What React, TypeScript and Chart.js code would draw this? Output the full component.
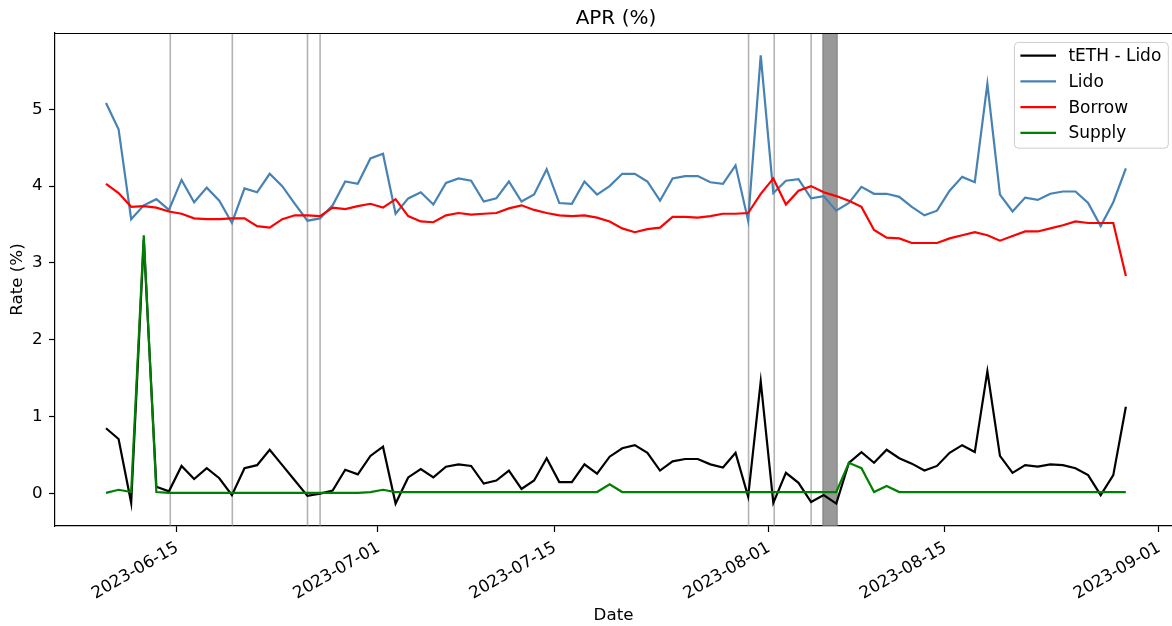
import React, { useEffect, useRef } from "react";
import { Chart, registerables } from "chart.js";

Chart.register(...registerables);

// ---------- data ----------
const FIRST_DATE = "2023-06-09T10:00:00Z"; // daily observations
const X_TICK_LABELS = ["2023-06-15", "2023-07-01", "2023-07-15", "2023-08-01", "2023-08-15", "2023-09-01"];
const Y_TICKS = [0, 1, 2, 3, 4, 5];

const TETH_LIDO = [
  0.85, 0.71, -0.12, 3.3, 0.09, 0.03, 0.36, 0.19, 0.33, 0.2,
  -0.02, 0.33, 0.37, 0.57, 0.37, 0.17, -0.03, 0.0, 0.04, 0.31,
  0.25, 0.49, 0.61, -0.13, 0.21, 0.32, 0.21, 0.35, 0.38, 0.36,
  0.13, 0.17, 0.3, 0.06, 0.17, 0.46, 0.15, 0.15, 0.38, 0.26,
  0.48, 0.59, 0.63, 0.53, 0.3, 0.42, 0.45, 0.45, 0.38, 0.34,
  0.53, -0.04, 1.46, -0.12, 0.27, 0.14, -0.11, -0.02, -0.13, 0.4,
  0.54, 0.4, 0.57, 0.46, 0.39, 0.3, 0.36, 0.53, 0.63, 0.54,
  1.59, 0.49, 0.27, 0.37, 0.35, 0.38, 0.37, 0.33, 0.24, -0.02,
  0.24, 1.13,
];
const LIDO = [
  5.08, 4.74, 3.57, 3.75, 3.83, 3.69, 4.08, 3.79, 3.98, 3.81,
  3.52, 3.97, 3.92, 4.16, 4.0, 3.77, 3.55, 3.58, 3.75, 4.06,
  4.03, 4.36, 4.42, 3.64, 3.84, 3.92, 3.76, 4.04, 4.1, 4.07,
  3.8, 3.84, 4.06, 3.8, 3.89, 4.22, 3.78, 3.77, 4.06, 3.89,
  4.0, 4.16, 4.16, 4.06, 3.81, 4.1, 4.13, 4.13, 4.05, 4.03,
  4.27, 3.55, 5.7, 3.91, 4.07, 4.09, 3.84, 3.87, 3.68, 3.78,
  3.99, 3.9, 3.9, 3.86, 3.73, 3.62, 3.68, 3.94, 4.12, 4.05,
  5.33, 3.89, 3.67, 3.85, 3.82, 3.9, 3.93, 3.93, 3.78, 3.48,
  3.79, 4.23,
];
const BORROW = [
  4.03, 3.91, 3.73, 3.74, 3.72, 3.67, 3.64, 3.58, 3.57, 3.57,
  3.58, 3.58, 3.48, 3.46, 3.57, 3.62, 3.62, 3.61, 3.72, 3.7,
  3.74, 3.77, 3.72, 3.83, 3.61, 3.54, 3.53, 3.62, 3.65, 3.63,
  3.64, 3.65, 3.71, 3.75, 3.69, 3.65, 3.62, 3.61, 3.62, 3.59,
  3.54, 3.45, 3.4, 3.44, 3.46, 3.6, 3.6, 3.59, 3.61, 3.64,
  3.64, 3.65, 3.9, 4.1, 3.76, 3.94, 4.0, 3.92, 3.87, 3.81,
  3.73, 3.43, 3.33, 3.32, 3.26, 3.26, 3.26, 3.32, 3.36, 3.4,
  3.36, 3.29, 3.35, 3.41, 3.41, 3.45, 3.49, 3.54, 3.52, 3.52,
  3.52, 2.83,
];
const SUPPLY = [
  0.01, 0.05, 0.02, 3.36, 0.02, 0.01, 0.01, 0.01, 0.01, 0.01,
  0.01, 0.01, 0.01, 0.01, 0.01, 0.01, 0.01, 0.01, 0.01, 0.01,
  0.01, 0.02, 0.05, 0.02, 0.02, 0.02, 0.02, 0.02, 0.02, 0.02,
  0.02, 0.02, 0.02, 0.02, 0.02, 0.02, 0.02, 0.02, 0.02, 0.02,
  0.12, 0.02, 0.02, 0.02, 0.02, 0.02, 0.02, 0.02, 0.02, 0.02,
  0.02, 0.02, 0.02, 0.02, 0.02, 0.02, 0.02, 0.02, 0.02, 0.4,
  0.33, 0.02, 0.1, 0.02, 0.02, 0.02, 0.02, 0.02, 0.02, 0.02,
  0.02, 0.02, 0.02, 0.02, 0.02, 0.02, 0.02, 0.02, 0.02, 0.02,
  0.02, 0.02,
];

// vertical event markers and shaded window
const EVENT_LINES = [
  "2023-06-14T12:30:00Z", "2023-06-19T10:50:00Z", "2023-06-25T10:05:00Z", "2023-06-26T10:05:00Z",
  "2023-07-30T10:50:00Z", "2023-08-01T11:45:00Z", "2023-08-04T10:05:00Z",
];
const EVENT_BANDS = [["2023-08-05T08:25:00Z", "2023-08-06T11:45:00Z"]];

const SERIES = [
  { label: "tETH - Lido", values: TETH_LIDO, color: "#000000" },
  { label: "Lido", values: LIDO, color: "#4682b4" },
  { label: "Borrow", values: BORROW, color: "#ff0000" },
  { label: "Supply", values: SUPPLY, color: "#008000" },
];

// ---------- helpers ----------
const DAY_MS = 86400000;
const ORIGIN = Date.parse("2023-06-15T00:00:00Z");
const toDay = (s: string) => (Date.parse(s) - ORIGIN) / DAY_MS;
const FIRST_DAY = toDay(FIRST_DATE);
const DAYS = LIDO.map((_, i) => FIRST_DAY + i);

const FONT = "DejaVu Sans";
const W = 1172;
const H = 626;

const allVals = [...TETH_LIDO, ...LIDO, ...BORROW, ...SUPPLY];
const yLo = Math.min(...allVals);
const yHi = Math.max(...allVals);
const yPad = (yHi - yLo) * 0.05;
const xLo = DAYS[0];
const xHi = DAYS[DAYS.length - 1];
const xPad = (xHi - xLo) * 0.05;
const X_MIN = xLo - xPad;
const X_FULL_MAX = xHi + xPad; // right edge of the full axes (beyond the crop)
const X_VIEW_MAX = 79.08; // visible right edge of the cropped figure

const overlayPlugin = {
  id: "overlay",
  beforeDatasetsDraw(chart: any) {
    const { ctx, chartArea, scales } = chart;
    const xs = scales.x;
    ctx.save();
    ctx.beginPath();
    ctx.rect(chartArea.left, chartArea.top, chartArea.right - chartArea.left, chartArea.bottom - chartArea.top);
    ctx.clip();
    for (const [a, b] of EVENT_BANDS) {
      const pa = xs.getPixelForValue(toDay(a));
      const pb = xs.getPixelForValue(toDay(b));
      ctx.fillStyle = "rgba(128,128,128,0.8)";
      ctx.fillRect(pa, chartArea.top, pb - pa, chartArea.bottom - chartArea.top);
      ctx.strokeStyle = "rgba(110,110,110,0.8)";
      ctx.lineWidth = 1;
      ctx.strokeRect(pa, chartArea.top, pb - pa, chartArea.bottom - chartArea.top);
    }
    ctx.strokeStyle = "rgba(128,128,128,0.6)";
    ctx.lineWidth = 1.6;
    for (const e of EVENT_LINES) {
      const p = xs.getPixelForValue(toDay(e));
      ctx.beginPath();
      ctx.moveTo(p, chartArea.top);
      ctx.lineTo(p, chartArea.bottom);
      ctx.stroke();
    }
    ctx.restore();
  },
  afterDraw(chart: any) {
    const { ctx, chartArea, scales } = chart;
    const xs = scales.x;
    ctx.save();
    // top spine
    ctx.strokeStyle = "#000";
    ctx.lineWidth = 1.2;
    ctx.beginPath();
    ctx.moveTo(chartArea.left - 0.6, chartArea.top + 0.5);
    ctx.lineTo(chartArea.right, chartArea.top + 0.5);
    ctx.stroke();

    // title centred over the full axes
    const cx = (chartArea.left + xs.getPixelForValue(X_FULL_MAX)) / 2;
    ctx.fillStyle = "#000";
    ctx.font = `20px "${FONT}"`;
    ctx.textAlign = "center";
    ctx.textBaseline = "alphabetic";
    ctx.fillText("APR (%)", cx, 24);

    // legend (upper right, inside axes)
    const fs = 17;
    ctx.font = `${fs}px "${FONT}"`;
    const textW = Math.max(...SERIES.map((s) => ctx.measureText(s.label).width));
    const padL = 6;
    const handle = 35.6;
    const gap = 12.4;
    const padR = 7;
    const rowH = 25.7;
    const boxW = padL + handle + gap + textW + padR;
    const boxH = rowH * SERIES.length + 3;
    const right = chartArea.right - 3.7;
    const top = chartArea.top + 9.4;
    const left = right - boxW;
    const r = 4;
    ctx.beginPath();
    ctx.moveTo(left + r, top);
    ctx.lineTo(left + boxW - r, top);
    ctx.arcTo(left + boxW, top, left + boxW, top + r, r);
    ctx.lineTo(left + boxW, top + boxH - r);
    ctx.arcTo(left + boxW, top + boxH, left + boxW - r, top + boxH, r);
    ctx.lineTo(left + r, top + boxH);
    ctx.arcTo(left, top + boxH, left, top + boxH - r, r);
    ctx.lineTo(left, top + r);
    ctx.arcTo(left, top, left + r, top, r);
    ctx.closePath();
    ctx.fillStyle = "rgba(255,255,255,0.8)";
    ctx.fill();
    ctx.strokeStyle = "#cccccc";
    ctx.lineWidth = 1;
    ctx.stroke();
    ctx.textAlign = "left";
    ctx.textBaseline = "middle";
    SERIES.forEach((s, i) => {
      const cy = top + 13.3 + i * rowH;
      ctx.strokeStyle = s.color;
      ctx.lineWidth = 2.2;
      ctx.beginPath();
      ctx.moveTo(left + padL, cy);
      ctx.lineTo(left + padL + handle, cy);
      ctx.stroke();
      ctx.fillStyle = "#000";
      ctx.fillText(s.label, left + padL + handle + gap, cy + 1);
    });
    ctx.restore();
  },
};

export default function App() {
  const ref = useRef<HTMLCanvasElement | null>(null);
  useEffect(() => {
    document.body.style.margin = "0";
    const canvas = ref.current;
    if (!canvas) return;
    Chart.defaults.font.family = FONT;
    const chart = new Chart(canvas, {
      type: "line",
      data: {
        datasets: SERIES.map((s, k) => ({
          label: s.label,
          data: s.values.map((v, i) => ({ x: DAYS[i], y: v })),
          borderColor: s.color,
          backgroundColor: s.color,
          borderWidth: 2.2,
          pointRadius: 0,
          tension: 0,
          fill: false,
          order: SERIES.length - k,
        })),
      },
      options: {
        animation: false,
        responsive: false,
        maintainAspectRatio: false,
        devicePixelRatio: 1,
        layout: { padding: { top: 33, left: 0, right: 0, bottom: 0 } },
        plugins: {
          legend: { display: false },
          title: { display: false },
          tooltip: { enabled: false },
        },
        scales: {
          x: {
            type: "linear",
            min: X_MIN,
            max: X_VIEW_MAX,
            afterBuildTicks: (scale: any) => {
              scale.ticks = X_TICK_LABELS.map((l) => ({ value: toDay(l + "T00:00:00Z") }));
            },
            afterFit: (scale: any) => {
              scale.height = 100;
              scale.paddingLeft = 0;
              scale.paddingRight = 0;
            },
            ticks: {
              autoSkip: false,
              minRotation: 30,
              maxRotation: 30,
              color: "#000",
              padding: 6,
              labelOffset: 1,
              font: { size: 16.7, family: FONT },
              callback: (v: any) => {
                const found = X_TICK_LABELS.find((l) => Math.abs(toDay(l + "T00:00:00Z") - Number(v)) < 1e-6);
                return found ?? "";
              },
            },
            grid: {
              drawOnChartArea: false,
              drawTicks: true,
              tickLength: 6,
              tickColor: "#000",
              tickWidth: 1.2,
            },
            border: { display: true, color: "#000", width: 1.2 },
            title: {
              display: true,
              text: "Date",
              color: "#000",
              font: { size: 16.7, family: FONT },
              padding: { top: 0, bottom: 0 },
            },
          },
          y: {
            type: "linear",
            min: yLo - yPad,
            max: yHi + yPad,
            afterBuildTicks: (scale: any) => {
              scale.ticks = Y_TICKS.map((v) => ({ value: v }));
            },
            afterFit: (scale: any) => {
              scale.width = 55;
              scale.paddingTop = 0;
              scale.paddingBottom = 0;
            },
            ticks: {
              color: "#000",
              padding: 6.5,
              font: { size: 16.7, family: FONT },
              callback: (v: any) => String(v),
            },
            grid: {
              drawOnChartArea: false,
              drawTicks: true,
              tickLength: 6,
              tickColor: "#000",
              tickWidth: 1.2,
            },
            border: { display: true, color: "#000", width: 1.2 },
            title: {
              display: true,
              text: "Rate (%)",
              color: "#000",
              font: { size: 16.7, family: FONT },
              padding: { top: 8, bottom: 0 },
            },
          },
        },
      },
      plugins: [overlayPlugin],
    } as any);
    return () => chart.destroy();
  }, []);
  return (
    <div style={{ position: "absolute", left: 0, top: 0, width: W, height: H, background: "#fff" }}>
      <canvas ref={ref} width={W} height={H} style={{ display: "block", width: W, height: H }} />
    </div>
  );
}
